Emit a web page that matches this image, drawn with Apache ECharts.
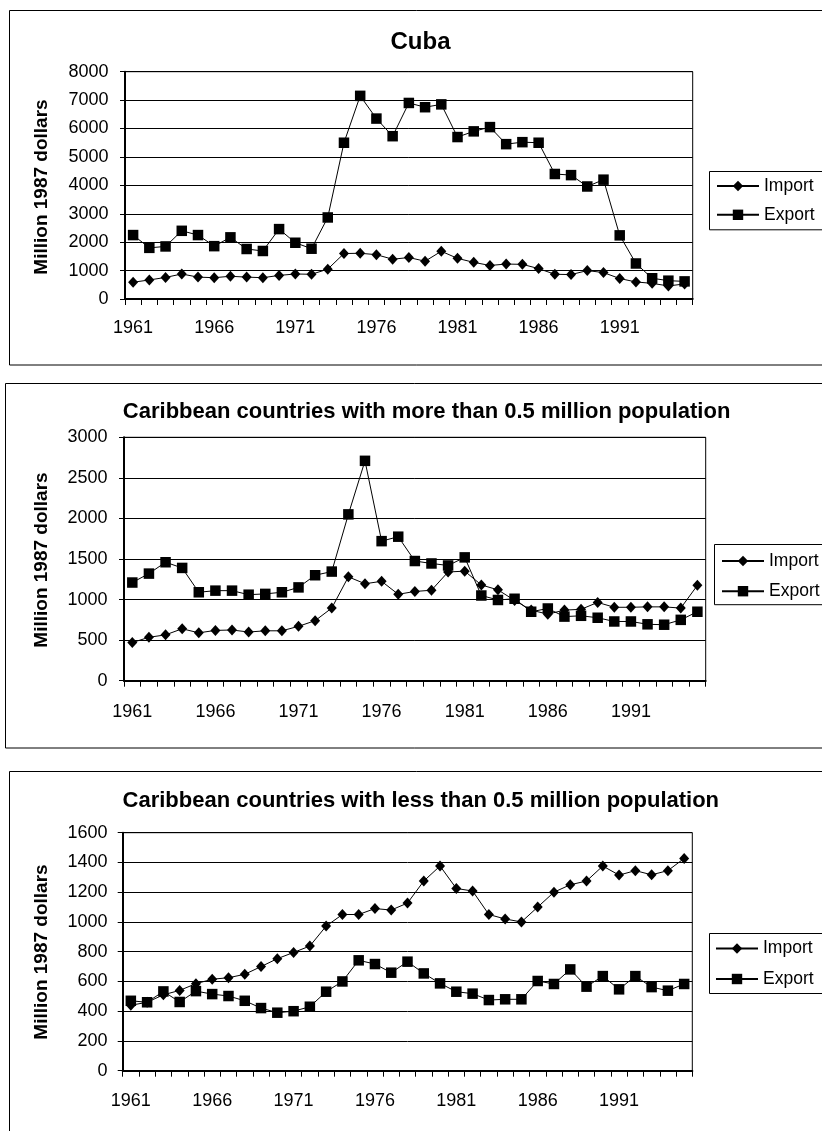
<!DOCTYPE html>
<html>
<head>
<meta charset="utf-8">
<title>Caribbean imports and exports, 1961-1995</title>
<script src="https://cdn.jsdelivr.net/npm/echarts@6/dist/echarts.min.js"></script>
<style>
  html, body { margin: 0; padding: 0; background: #fff; }
  #chart { width: 822px; height: 1131px; }
</style>
</head>
<body>
<div id="chart"></div>
<script>
// Years on the category axis
const years = ['1961','1962','1963','1964','1965','1966','1967','1968','1969','1970',
               '1971','1972','1973','1974','1975','1976','1977','1978','1979','1980',
               '1981','1982','1983','1984','1985','1986','1987','1988','1989','1990',
               '1991','1992','1993','1994','1995'];

// Cuba, million 1987 dollars
const cubaImport = [590, 670, 760, 880, 770, 750, 800, 770, 750, 830,
                    880, 870, 1050, 1600, 1610, 1560, 1400, 1460, 1330, 1680,
                    1430, 1290, 1180, 1230, 1220, 1070, 870, 860, 1000, 930,
                    720, 600, 550, 460, 530];
const cubaExport = [2250, 1800, 1850, 2400, 2250, 1860, 2170, 1760, 1690, 2460,
                    1980, 1770, 2870, 5500, 7150, 6350, 5730, 6900, 6750, 6850,
                    5700, 5900, 6050, 5450, 5520, 5500, 4400, 4360, 3960, 4200,
                    2240, 1250, 730, 645, 620];

// Caribbean countries with more than 0.5 million population
const largeImport = [470, 535, 565, 640, 590, 620, 625, 600, 615, 615,
                     670, 740, 895, 1280, 1195, 1225, 1065, 1100, 1115, 1340,
                     1350, 1180, 1120, 990, 870, 820, 870, 880, 965, 905,
                     905, 910, 910, 895, 1175];
const largeExport = [1210, 1320, 1460, 1390, 1090, 1110, 1110, 1060, 1070, 1090,
                     1150, 1300, 1345, 2050, 2710, 1720, 1775, 1475, 1445, 1420,
                     1520, 1050, 995, 1010, 850, 890, 790, 800, 776, 730,
                     730, 695, 690, 750, 850];

// Caribbean countries with less than 0.5 million population
const smallImport = [440, 460, 510, 540, 585, 615, 625, 648, 700, 753,
                     795, 838, 972, 1050, 1050, 1090, 1080, 1127, 1275, 1376,
                     1225, 1208, 1050, 1020, 1000, 1100, 1200, 1250, 1275, 1376,
                     1315, 1345, 1317, 1345, 1427];
const smallExport = [470, 460, 533, 462, 535, 515, 502, 470, 421, 390,
                     400, 430, 531, 600, 742, 717, 659, 733, 654, 587,
                     531, 518, 475, 480, 480, 603, 583, 681, 565, 636,
                     547, 636, 562, 538, 583];

// Value-axis tick labels of each panel
const cubaTicks  = [0, 1000, 2000, 3000, 4000, 5000, 6000, 7000, 8000];
const largeTicks = [0, 500, 1000, 1500, 2000, 2500, 3000];
const smallTicks = [0, 200, 400, 600, 800, 1000, 1200, 1400, 1600];

const titles = ['Cuba',
                'Caribbean countries with more than 0.5 million population',
                'Caribbean countries with less than 0.5 million population'];
const seriesNames = ['Import', 'Export'];
const axisName = 'Million 1987 dollars';

const FONT = '"Liberation Sans", Arial, Helvetica, sans-serif';

// Layout of the three stacked panels
const panels = [
  { grid: { left: 125, top: 71.7, width: 567.7, height: 227.3 },
    frame: { x: 9.5, y: 10.5, width: 900, height: 354.5 },
    title: { x: 420.5, y: 42, size: 24 }, nameY: 187,
    xMargin: 20.5, yMargin: 16.5,
    legend: { left: 709.5, top: 171.5, padding: [5.5, 10, 6, 6.5], itemGap: 10.8 },
    ticks: cubaTicks, imp: cubaImport, exp: cubaExport },
  { grid: { left: 124, top: 437.3, width: 581.7, height: 243.4 },
    frame: { x: 5.5, y: 383.5, width: 900, height: 364.5 },
    title: { x: 426.6, y: 412, size: 22 }, nameY: 560,
    xMargin: 22.5, yMargin: 16.5,
    legend: { left: 714.5, top: 544.5, padding: [7.5, 10, 4.5, 6.5], itemGap: 12.2 },
    ticks: largeTicks, imp: largeImport, exp: largeExport },
  { grid: { left: 122.7, top: 832.7, width: 569.6, height: 238 },
    frame: { x: 9.5, y: 771.5, width: 900, height: 420 },
    title: { x: 420.8, y: 801, size: 22 }, nameY: 952,
    xMargin: 21.5, yMargin: 15.2,
    legend: { left: 709.5, top: 933.5, padding: [6, 10, 5.5, 5.5], itemGap: 12.5 },
    ticks: smallTicks, imp: smallImport, exp: smallExport }
];

const option = {
  animation: false,
  backgroundColor: '#fff',
  textStyle: { fontFamily: FONT },
  grid: [], xAxis: [], yAxis: [], series: [], legend: [], graphic: []
};

panels.forEach((p, i) => {
  option.grid.push(Object.assign({
    show: true, borderColor: '#000', borderWidth: 1,
    backgroundColor: 'transparent', containLabel: false
  }, p.grid));

  option.xAxis.push({
    type: 'category', gridIndex: i, data: years, boundaryGap: true,
    axisLine: { show: true, lineStyle: { color: '#000', width: 2 } },
    axisTick: { show: true, interval: 0, length: 6, inside: false,
                lineStyle: { color: '#000', width: 1 } },
    axisLabel: { interval: 4, margin: p.xMargin, color: '#000',
                 fontSize: 18, fontFamily: FONT },
    splitLine: { show: false }
  });

  const t = p.ticks;
  option.yAxis.push({
    type: 'value', gridIndex: i,
    min: t[0], max: t[t.length - 1], interval: t[1] - t[0],
    axisLine: { show: true, lineStyle: { color: '#000', width: 2 } },
    axisTick: { show: true, length: 5, inside: false,
                lineStyle: { color: '#000', width: 1 } },
    axisLabel: { margin: p.yMargin, color: '#000', fontSize: 18, fontFamily: FONT,
                 formatter: (v) => String(v) },
    splitLine: { show: true, lineStyle: { color: '#000', width: 1 } }
  });

  option.series.push({
    name: seriesNames[0], type: 'line', xAxisIndex: i, yAxisIndex: i,
    data: p.imp, symbol: 'diamond', symbolSize: [10, 11], showAllSymbol: true,
    lineStyle: { color: '#000', width: 1 },
    itemStyle: { color: '#000' }, z: 3
  });
  option.series.push({
    name: seriesNames[1], type: 'line', xAxisIndex: i, yAxisIndex: i,
    data: p.exp, symbol: 'rect', symbolSize: 10.5, showAllSymbol: true,
    lineStyle: { color: '#000', width: 1 },
    itemStyle: { color: '#000' }, z: 4
  });

  option.legend.push({
    data: seriesNames, orient: 'vertical',
    left: p.legend.left, top: p.legend.top,
    padding: p.legend.padding, itemGap: p.legend.itemGap,
    itemWidth: 42, itemHeight: 13,
    borderColor: '#000', borderWidth: 1, backgroundColor: '#fff',
    selectedMode: false,
    textStyle: { color: '#000', fontSize: 17.5, fontFamily: FONT }
  });

  // panel frame
  option.graphic.push({
    type: 'rect', silent: true, z: -10,
    shape: p.frame,
    style: { fill: 'none', stroke: '#000', lineWidth: 1 }
  });
  // panel title
  option.graphic.push({
    type: 'text', silent: true, x: p.title.x, y: p.title.y,
    style: { text: titles[i], fill: '#000',
             font: 'bold ' + p.title.size + 'px ' + FONT,
             align: 'center', verticalAlign: 'middle' }
  });
  // value-axis title
  option.graphic.push({
    type: 'text', silent: true, x: 42, y: p.nameY, rotation: Math.PI / 2,
    style: { text: axisName, fill: '#000',
             font: 'bold 19px ' + FONT,
             align: 'center', verticalAlign: 'middle' }
  });
});

const chart = echarts.init(document.getElementById('chart'), null, { renderer: 'canvas' });
chart.setOption(option);
</script>
</body>
</html>
